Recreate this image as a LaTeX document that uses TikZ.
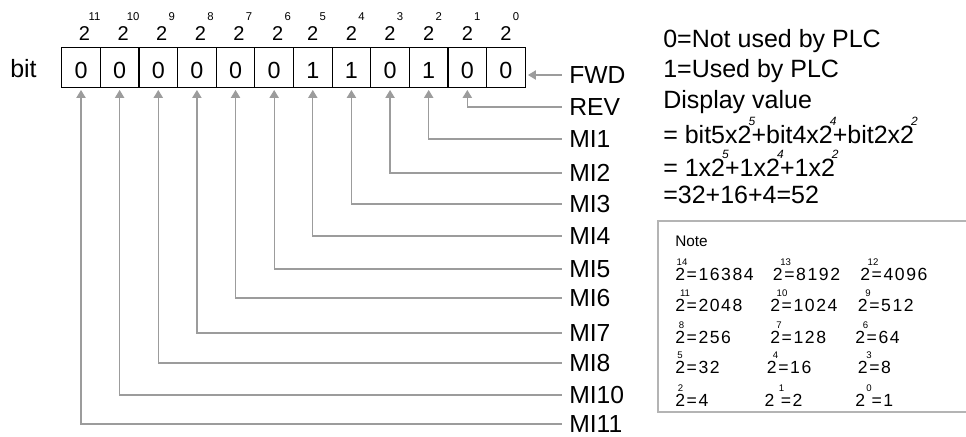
\documentclass[tikz,border=0pt]{standalone}
\usepackage{fontspec}
\setmainfont{Liberation Sans}
\usetikzlibrary{arrows.meta,calc}
\definecolor{lnc}{HTML}{9C9C9C}
\definecolor{notec}{HTML}{B4B4B4}
\newcommand\supx[1]{\kern-0.12em\rlap{\raisebox{0.72em}{\fontsize{9}{9}\selectfont\itshape #1}}\kern0.12em}
\begin{document}
\begin{tikzpicture}[x=0.75pt,y=-0.75pt,
  cell/.style={draw=black,line width=0.9pt,minimum width=28.97pt,minimum height=30pt,
    inner sep=0pt,outer sep=0pt,font=\fontsize{17.5}{17.5}\selectfont,text height=17pt,text depth=0pt},
  lbl/.style={anchor=west,inner xsep=5.25pt,inner ysep=0pt,font=\fontsize{18.5}{18.5}\selectfont},
  rtxt/.style={anchor=base west,inner sep=0pt,font=\fontsize{18.75}{18.75}\selectfont},
  pw/.style={anchor=base,inner sep=0pt,font=\fontsize{15}{15}\selectfont},
  pe/.style={anchor=base,inner sep=0pt,font=\fontsize{8.5}{8.5}\selectfont},
  ntxt/.style={anchor=base west,inner sep=0pt,font=\fontsize{13.2}{13.2}\selectfont\addfontfeature{LetterSpace=9}},
  nexp/.style={anchor=base,inner sep=0pt,font=\fontsize{7.2}{7.2}\selectfont},
  conn/.style={draw=lnc,line width=0.9pt},
  tip/.style={{Triangle[length=6pt,width=7pt]}-,shorten <=2pt}]
\useasboundingbox (0,0) rectangle (966,436);

% bit label
\node[anchor=base west,inner sep=0pt,font=\fontsize{18.75}{18.75}\selectfont] (bitlbl) at (10,77.3) {bit};

% cells, weights
\foreach \b/\v [count=\k from 0] in {11/0,10/0,9/0,8/0,7/0,6/0,5/1,4/1,3/0,2/1,1/0,0/0}{
  \pgfmathsetmacro\cx{61.7+38.63*(\k+0.5)}
  \pgfmathsetmacro\sh{(\k<6)*3.5}
  \node[cell] (b\b) at (\cx,67.3) {\v};
  \node[pw] (h\b) at (\cx+\sh,40.7) {2};
  \node[pe] (e\b) at (\cx+\sh+10,20) {\b};
}

% labels
\foreach \n/\y in {FWD/75,REV/107,MI1/139,MI2/173,MI3/204,MI4/236,MI5/269,MI6/298,MI7/333,MI8/363,MI10/395,MI11/424}{
  \node[lbl] (\n) at (562,\y) {\n};
}

% connectors
\draw[conn,tip] (b0.east |- FWD.west) -- (FWD.west);
\foreach \b/\n in {1/REV,2/MI1,3/MI2,4/MI3,5/MI4,6/MI5,7/MI6,8/MI7,9/MI8,10/MI10,11/MI11}{
  \draw[conn,tip] (b\b.south) |- (\n.west);
}

% right text
\node[rtxt] (t1) at (663,47) {0=Not used by PLC};
\node[rtxt] (t2) at (663,77.5) {1=Used by PLC};
\node[rtxt] (t3) at (663,108) {Display value};
\node[rtxt] (t4) at (663,143) {= bit5x2\supx{5}+bit4x2\supx{4}+bit2x2\supx{2}};
\node[rtxt] (t5) at (663,176) {= 1x2\supx{5}+1x2\supx{4}+1x2\supx{2}};
\node[rtxt] (t6) at (663,203.5) {=32+16+4=52};

% note box
\draw[draw=notec,line width=1.5pt] (975,220.7) -- (658.3,220.7) -- (658.3,411.7) -- (975,411.7);
\node[anchor=base west,inner sep=0pt,font=\fontsize{11.5}{11.5}\selectfont] (note) at (675,246.7) {Note};
\foreach \x/\y/\ex/\exc/\t [count=\i] in {
  675/280/14/682/{2=16384}, 772.7/280/13/785.7/{2=8192}, 860/280/12/873/{2=4096},
  675/311.7/11/685/{2=2048}, 770/311.7/10/782/{2=1024}, 857.7/311.7/9/868/{2=512},
  675/343.3/8/681.5/{2=256}, 770/343.3/7/779/{2=128}, 855/343.3/6/865.5/{2=64},
  675/373.3/5/680/{2=32}, 766.7/373.3/4/775.5/{2=16}, 857.7/373.3/3/869/{2=8},
  675/406/2/680.5/{2=4}, 764.3/406/1/781.5/{2 =2}, 855/406/0/869/{2 =1}}{
  \node[ntxt] (n\i) at (\x,\y) {\t};
  \node[nexp] (x\i) at (\exc,\y-15) {\ex};
}
\end{tikzpicture}
\end{document}
